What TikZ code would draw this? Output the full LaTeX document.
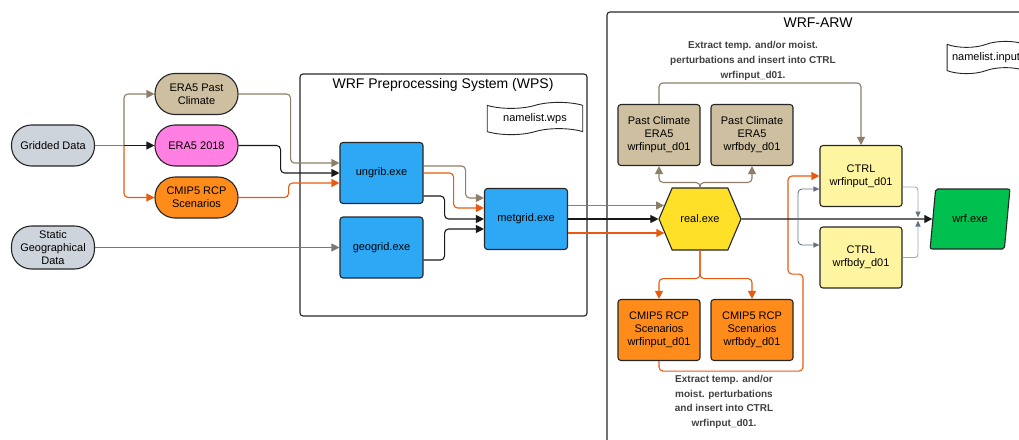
\documentclass[tikz,border=0pt]{standalone}
\usepackage{fontspec}
\setmainfont{Liberation Sans}
\usetikzlibrary{arrows.meta,shapes.geometric,shapes.symbols}

\definecolor{gridgray}{RGB}{206,212,220}
\definecolor{tanfill}{RGB}{205,191,160}
\definecolor{pinkfill}{RGB}{255,128,226}
\definecolor{orfill}{RGB}{255,140,26}
\definecolor{exeblue}{RGB}{45,168,245}
\definecolor{realyellow}{RGB}{255,224,40}
\definecolor{ctrlfill}{RGB}{255,245,160}
\definecolor{wrfgreen}{RGB}{0,192,80}
\definecolor{tanline}{RGB}{140,126,104}
\definecolor{orline}{RGB}{232,90,16}
\definecolor{geoline}{RGB}{120,120,120}
\definecolor{slateline}{RGB}{100,115,132}
\definecolor{paleline}{RGB}{160,170,180}

\begin{document}
\begin{tikzpicture}[x=1pt,y=-1pt,
  frame/.style={draw=black!85, line width=1.1pt, rounded corners=3pt},
  title/.style={font=\fontsize{14}{16}\selectfont},
  box/.style={draw=black!85, line width=1.1pt, rounded corners=3pt, align=center,
    minimum width=82pt, minimum height=61pt, inner sep=2pt,
    font=\fontsize{11}{13}\selectfont},
  pill/.style={box, rounded corners=20pt, minimum width=83pt, minimum height=41pt},
  exe/.style={box, fill=exeblue, minimum width=83pt},
  hexa/.style={signal, signal to=east and west, signal pointer angle=134,
    draw=black!85, line width=1.1pt, fill=realyellow, minimum width=82pt,
    minimum height=62pt, font=\fontsize{11}{13}\selectfont},
  para/.style={trapezium, trapezium left angle=77, trapezium right angle=103,
    trapezium stretches=true, draw=black!85, line width=1.1pt, fill=wrfgreen,
    rounded corners=2pt, minimum width=80pt, minimum height=60pt,
    font=\fontsize{11}{13}\selectfont},
  namelist/.style={tape, draw=black!85, line width=0.9pt, fill=white,
    tape bend height=6pt, inner ysep=5pt, font=\fontsize{11}{13}\selectfont},
  note/.style={align=center, text=black!75, font=\bfseries\fontsize{10}{14.6}\selectfont},
  link/.style={line width=1.1pt, rounded corners=4pt, -{Triangle[length=8pt,width=8pt]}},
  tanlink/.style={link, draw=tanline},
  blklink/.style={link, draw=black!90},
  orlink/.style={link, draw=orline},
  geolink/.style={link, draw=geoline},
  slatelink/.style={line width=0.9pt, rounded corners=4pt, draw=slateline,
    -{Triangle[length=6pt,width=5pt]}},
  palelink/.style={line width=0.9pt, rounded corners=3pt, draw=paleline,
    -{Triangle[length=6pt,width=5pt,color=slateline]}}]
\clip (0,0) rectangle (1019,439);

% system frames
\draw[frame] (300,74) rectangle (587,316);
\node[title] (wpstitle) at (443,85) {WRF Preprocessing System (WPS)};
\draw[frame] (607,12) rectangle (1040,470);
\node[title] (arwtitle) at (818,23) {WRF-ARW};

% input data
\node[pill, fill=gridgray] (gridded) at (53,145.5) {Gridded Data};
\node[pill, fill=gridgray, minimum height=43pt] (static) at (53,247.5) {Static\\Geographical\\Data};
\node[pill, fill=tanfill] (era5past) at (196.5,94) {ERA5 Past\\Climate};
\node[pill, fill=pinkfill] (era2018) at (196.5,145.5) {ERA5 2018};
\node[pill, fill=orfill] (cmip) at (196.5,197.5) {CMIP5 RCP\\Scenarios};

% WPS
\node[namelist, inner xsep=16pt] (nlwps) at (535,118.5) {namelist.wps};
\node[exe] (ungrib) at (381.5,173) {ungrib.exe};
\node[exe] (geogrid) at (381.5,247.5) {geogrid.exe};
\node[exe] (metgrid) at (526,219) {metgrid.exe};

% WRF-ARW
\node[namelist, inner xsep=5pt] (nlinput) at (986,57.5) {namelist.input};
\node[hexa] (real) at (700,219) {real.exe};
\node[box, fill=tanfill] (pcin) at (659,135) {Past Climate\\ERA5\\wrfinput\_d01};
\node[box, fill=tanfill] (pcbdy) at (752,135) {Past Climate\\ERA5\\wrfbdy\_d01};
\node[box, fill=orfill] (cmin) at (659,330) {CMIP5 RCP\\Scenarios\\wrfinput\_d01};
\node[box, fill=orfill] (cmbdy) at (752,330) {CMIP5 RCP\\Scenarios\\wrfbdy\_d01};
\node[box, fill=ctrlfill] (ctrlin) at (861,176) {CTRL\\wrfinput\_d01};
\node[box, fill=ctrlfill] (ctrlbdy) at (861,257.5) {CTRL\\wrfbdy\_d01};
\node[para] (wrf) at (970,219) {wrf.exe};
\node[note] (topnote) at (753,61) {Extract temp. and/or moist.\\perturbations and insert into CTRL\\wrfinput\_d01.};
\node[note] (botnote) at (724,402) {Extract temp. and/or\\moist. perturbations\\and insert into CTRL\\wrfinput\_d01.};

\coordinate (gsplit) at (124,145.5);
\coordinate (fork) at (798,219);
\coordinate (join) at (918,219);

% gridded data split
\draw[line width=1.1pt, orline] (gridded.east) -- (gsplit);
\draw[tanlink] (gsplit) |- (era5past.west);
\draw[orlink] (gsplit) |- (cmip.west);
\draw[blklink] (gsplit) -- (era2018.west);

% into ungrib / geogrid
\draw[tanlink] (era5past.east) -- ++(52,0) |- ([yshift=10pt]ungrib.west);
\draw[blklink] (era2018.east) -- ++(42,0) |- (ungrib.west);
\draw[orlink] (cmip.east) -- ++(50,0) |- ([yshift=-10pt]ungrib.west);
\draw[geolink] (static.east) -- (geogrid.west);

% into metgrid
\draw[tanlink] ([yshift=7pt]ungrib.east) -- ++(42,0) |- ([yshift=21pt]metgrid.west);
\draw[orlink] (ungrib.east) -- ++(30,0) |- ([yshift=11pt]metgrid.west);
\draw[blklink] ([yshift=-23pt]ungrib.east) -- ++(21,0) |- (metgrid.west);
\draw[blklink] ([yshift=-12.5pt]geogrid.east) -- ++(21,0) |- ([yshift=-10pt]metgrid.west);

% into real
\draw[tanlink] ([yshift=13.5pt]metgrid.east) -- ([xshift=5.7pt,yshift=13.5pt]real.west);
\draw[blklink] (metgrid.east) -- (real.west);
\draw[orlink] ([yshift=-14pt]metgrid.east) -- ([xshift=5.9pt,yshift=-14pt]real.west);

% real outputs
\draw[tanlink] (real.north) -- ++(0,-5) -| (pcin.south);
\draw[tanlink] (real.north) -- ++(0,-5) -| (pcbdy.south);
\draw[orlink] (real.south) -- ++(0,28) -| (cmin.north);
\draw[orlink] (real.south) -- ++(0,28) -| (cmbdy.north);

% perturbations into CTRL
\draw[tanlink] (pcin.north) -- ++(0,-21) -| (ctrlin.north);
\draw[orlink] (cmin.south) -- ++(0,10) -- ++(144,0) -- ++(0,-97) -- ++(-15,0) |- (ctrlin.west);

% CTRL and wrf
\draw[blklink] (real.east) -- (wrf.west);
\draw[slatelink] (fork) |- ([yshift=-13pt]ctrlin.west);
\draw[slatelink] (fork) |- ([yshift=12.5pt]ctrlbdy.west);
\draw[palelink] ([yshift=-11pt]ctrlin.east) -| ([yshift=1.5pt]join);
\draw[palelink] (ctrlbdy.east) -| ([yshift=-1.5pt]join);

\end{tikzpicture}
\end{document}
